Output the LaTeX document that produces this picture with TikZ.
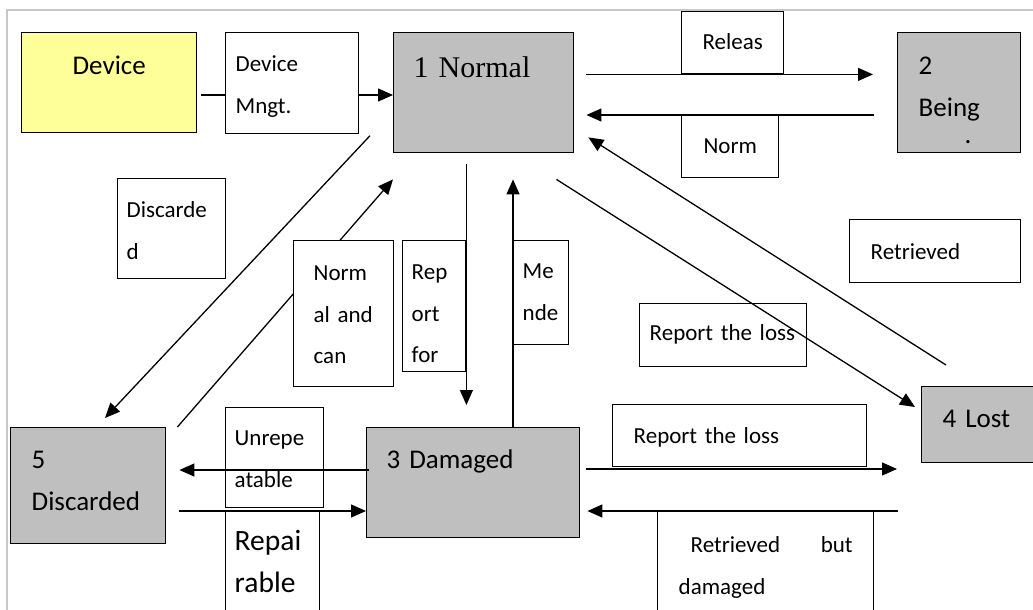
\documentclass[tikz,border=0pt]{standalone}
\usepackage{fontspec}
\setmainfont{Carlito}
\newfontfamily\tnr{Liberation Serif}
\usepackage{tikz}
\usetikzlibrary{arrows.meta,calc}
\definecolor{StateGray}{RGB}{191,191,191}
\definecolor{DevYellow}{RGB}{255,255,153}
\definecolor{FrameGray}{RGB}{200,200,200}

\begin{document}
\begin{tikzpicture}[
  x=1pt, y=-1pt,
  font=\fontsize{23}{41.5}\selectfont,
  box/.style={draw, line width=1.4pt, anchor=north west, inner ysep=0pt, align=left},
  state/.style={box, fill=StateGray, font=\fontsize{27}{41.5}\selectfont},
  arr/.style={-{Triangle[length=15pt,width=13pt]}, line width=1.3pt},
]
  \useasboundingbox (0,0) rectangle (1033,610);
  \draw[FrameGray, line width=2pt] (7,612) -- (7,10) -- (1040,10);

  \node[box, fill=DevYellow, align=center, inner xsep=0pt, text width=175pt,
        text height=42pt, text depth=58pt, font=\fontsize{27}{41.5}\selectfont]
        (device) at (21,32) {Device};
  \node[box, inner xsep=10pt, text width=113pt, text height=39pt, text depth=62pt]
        (mngt) at (225,32) {Device\\Mngt.};
  \node[state, inner xsep=20pt, text width=140pt, text height=45pt, text depth=75pt,
        font=\tnr\fontsize{30}{41.5}\selectfont]
        (normal) at (393,32) {1 Normal};
  \node[box, align=center, inner xsep=0pt, text width=102pt, text height=38pt, text depth=24pt]
        (releas) at (681,11) {Releas};
  \node[box, align=center, inner xsep=0pt, text width=97pt, text height=38pt, text depth=24pt]
        (norm) at (681,115) {Norm};
  \node[state, inner xsep=21pt, text width=81pt, text height=42pt, text depth=78pt]
        (being) at (897,32) {2\\Being\\[-14.5pt]\hspace*{46pt}.};
  \node[box, inner xsep=9pt, text width=90pt, text height=39pt, text depth=61pt]
        (discarde) at (117,178) {Discarde\\d};
  \node[box, inner xsep=9pt, text width=45pt, text height=39pt, text depth=92pt]
        (repfor) at (402,240) {Rep\\ort\\for};
  \node[box, inner xsep=9pt, text width=37pt, text height=38pt, text depth=66pt]
        (mende) at (513,240) {Me\\nde};
  \node[box, inner xsep=21pt, text width=129pt, text height=40pt, text depth=23pt]
        (retrieved) at (849,219) {Retrieved};
  \node[box, inner xsep=10pt, text width=147pt, text height=37pt, text depth=26pt]
        (lossmid) at (639,303) {Report~the~loss};
  \node[state, inner xsep=21pt, text width=73pt, text height=41pt, text depth=35pt]
        (lost) at (921,386) {4~Lost};
  \node[box, inner xsep=21pt, text width=212pt, text height=39pt, text depth=23pt]
        (lossbot) at (612,404) {Report the loss};
  \node[box, inner xsep=21pt, text width=174pt, text height=41pt, text depth=69pt]
        (retbut) at (657,511) {\hspace*{12pt}Retrieved\hfill but\\damaged};
  \node[state, inner xsep=20pt, text width=173pt, text height=41pt, text depth=69pt]
        (damaged) at (366,427) {3~Damaged};
  \node[state, inner xsep=21pt, text width=113pt, text height=41pt, text depth=75pt]
        (discarded) at (10,427) {5\\Discarded};
  \node[box, inner xsep=9pt, text width=80pt, text height=38pt, text depth=62pt]
        (unrep) at (225,407) {Unrepe\\atable};
  \node[box, inner xsep=9pt, text width=76pt, text height=39pt, text depth=71pt,
        font=\fontsize{29.5}{41.5}\selectfont]
        (repair) at (225,511) {Repai\\rable};

  \draw[line width=1.3pt] ($(device.north east)+(4,63)$) -- ($(mngt.north west)+(0,63)$);
  \draw[arr] ($(mngt.north east)+(0,63)$) -- ($(normal.north west)+(0,63)$);
  \draw[arr, shorten <=12pt, shorten >=24pt] (normal.east |- releas.south) -- (being.west |- releas.south);
  \draw[arr, shorten <=23pt, shorten >=12pt] (being.west |- norm.north) -- (normal.east |- norm.north);
  \draw[arr] ($(normal.west)+(-23,43)$) -- ($(discarded.north west)+(95,-9)$);
  \draw[arr] ($(discarded.north east)+(11,0)$) -- ($(normal.south west)+(0,26)$);
  \draw[arr, shorten <=11pt, shorten >=22pt] (repfor.east |- normal.south) -- (repfor.east |- damaged.north);
  \draw[arr, shorten >=26pt] (mende.west |- damaged.north) -- (mende.west |- normal.south);
  \draw[arr] ($(normal.south east)+(-18,26)$) -- ($(lost.north west)+(-6,21)$);
  \draw[arr] ($(lost.north west)+(25,-21)$) -- ($(normal.south east)+(14,-16)$);
  \draw[arr] ($(damaged.north west)+(3,43)$) -- ($(discarded.north east)+(13,43)$);
  \draw[arr, shorten <=13pt] (discarded.east |- repair.north) -- (damaged.west |- repair.north);
  \draw[arr] ($(damaged.north east)+(6,42)$) -- ($(lost.west |- damaged.north)+(-24,42)$);
  \draw[arr, shorten <=23pt, shorten >=7pt] (lost.west |- retbut.north) -- (damaged.east |- retbut.north);

  \node[box, fill=white, inner xsep=20pt, text width=60pt, text height=40pt, text depth=106pt]
        (normcan) at (293,240) {Norm\\al~and\\can};
\end{tikzpicture}
\end{document}
